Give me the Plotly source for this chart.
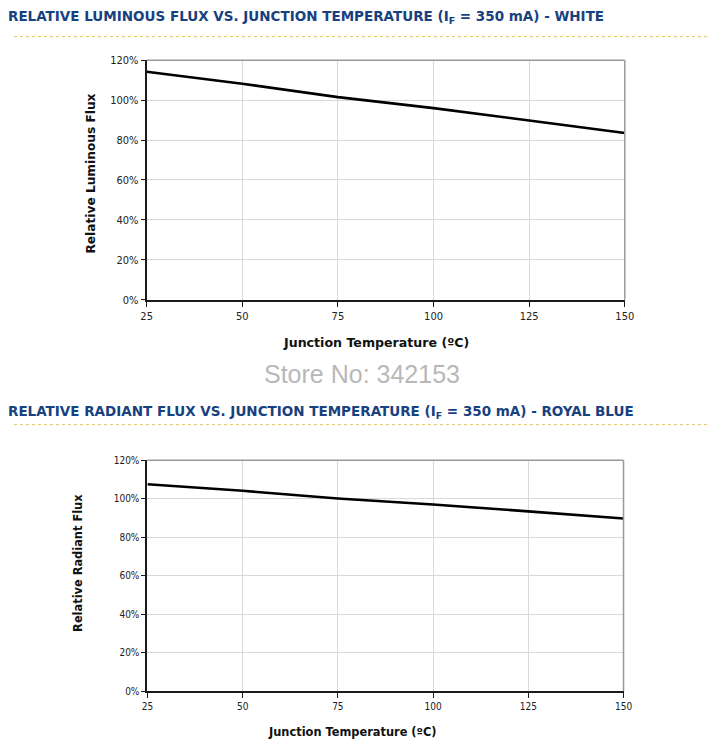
import plotly.graph_objects as go
from plotly.subplots import make_subplots

# junction temperature (C)
temps = [25, 50, 75, 100, 125, 150]
# relative luminous flux, white (%)
white_flux = [114.2, 108.2, 101.5, 96.0, 89.8, 83.5]
# relative radiant flux, royal blue (%)
blue_flux = [107.5, 104.1, 100.1, 97.0, 93.4, 89.7]

x_ticks = [25, 50, 75, 100, 125, 150]
y_ticks = [0, 20, 40, 60, 80, 100, 120]

# page is 725x748 but the body has an 8px margin, so the figure is smaller
PAD = 8
W, H = 725 - 2 * PAD, 748 - 2 * PAD
NAVY = '#17417f'
GOLD = '#e2c766'
GRID = '#d9d9d9'


def px(x):
    return (x - PAD) / W


def py(y):
    return 1 - (y - PAD) / H


fig = make_subplots(rows=2, cols=1)

fig.add_trace(go.Scatter(x=temps, y=white_flux, mode='lines',
                         line=dict(color='black', width=2.6), showlegend=False),
              row=1, col=1)
fig.add_trace(go.Scatter(x=temps, y=blue_flux, mode='lines',
                         line=dict(color='black', width=2.6), showlegend=False),
              row=2, col=1)

axis_common = dict(showgrid=True, gridcolor=GRID, gridwidth=1,
                   showline=True, linecolor='#1a1a1a', linewidth=2,
                   ticks='outside', tickcolor='#1a1a1a', ticklen=5, tickwidth=1,
                   zeroline=False)

# plot boxes in page pixels: (left, right, top, bottom), tick font size
boxes = [(143.5, 632, 55, 299, 11), (144.3, 630.7, 462.3, 697.3, 10)]
for i, (l, r, t, b, fs) in enumerate(boxes, start=1):
    tf = dict(family='DejaVu Sans Condensed', size=fs, color='#222222')
    fig.update_xaxes(range=[25, 150], tickvals=x_ticks, domain=[px(l), px(r)],
                     tickfont=tf, row=i, col=1, **axis_common)
    fig.update_yaxes(range=[0, 120], tickvals=y_ticks,
                     ticktext=[f'{v}%' for v in y_ticks],
                     domain=[py(b), py(t)], tickfont=tf, row=i, col=1,
                     **dict(axis_common, ticklen=4))

# gray top/right frame
for i in (1, 2):
    xr = 'x domain' if i == 1 else 'x2 domain'
    yr = 'y domain' if i == 1 else 'y2 domain'
    fig.add_shape(type='line', xref=xr, yref=yr, x0=0, x1=1, y0=1, y1=1,
                  line=dict(color='#9a9a9a', width=1.5))
    fig.add_shape(type='line', xref=xr, yref=yr, x0=1, x1=1, y0=0, y1=1,
                  line=dict(color='#9a9a9a', width=1.5))

# dotted rules under section titles
for y_px in (31, 426):
    fig.add_shape(type='line', xref='paper', yref='paper', x0=0, x1=1,
                  y0=py(y_px), y1=py(y_px),
                  line=dict(color=GOLD, width=1, dash='dot'))

title_font = dict(family='DejaVu Sans', size=13.5, color=NAVY)

annotations = [
    dict(text='<b>RELATIVE LUMINOUS FLUX VS. JUNCTION TEMPERATURE (I<sub>F</sub> = 350 mA) - WHITE</b>',
         x=px(0), y=py(11), xanchor='left', font=title_font),
    dict(text='<b>RELATIVE RADIANT FLUX VS. JUNCTION TEMPERATURE (I<sub>F</sub> = 350 mA) - ROYAL BLUE</b>',
         x=px(0), y=py(413), xanchor='left', font=title_font),
    dict(text='<b>Junction Temperature (ºC)</b>', x=px(378), y=py(342),
         font=dict(family='DejaVu Sans', size=12.6, color='#111111')),
    dict(text='<b>Junction Temperature (ºC)</b>', x=px(354), y=py(739),
         font=dict(family='DejaVu Sans', size=11.4, color='#111111')),
    dict(text='<b>Relative Luminous Flux</b>', x=px(78), y=py(171), textangle=-90,
         font=dict(family='DejaVu Sans', size=12.2, color='#111111')),
    dict(text='<b>Relative Radiant Flux</b>', x=px(64), y=py(567), textangle=-90,
         font=dict(family='DejaVu Sans', size=11.4, color='#111111')),
    dict(text='Store No: 342153', x=px(364), y=py(375),
         font=dict(family='Liberation Sans', size=25, color='#b8b8b8')),
]
for a in annotations:
    fig.add_annotation(xref='paper', yref='paper', showarrow=False, yanchor='middle', **a)

fig.update_layout(width=W, height=H, margin=dict(l=0, r=0, t=0, b=0),
                  paper_bgcolor='white', plot_bgcolor='white', showlegend=False)

fig.write_html("out.html")
